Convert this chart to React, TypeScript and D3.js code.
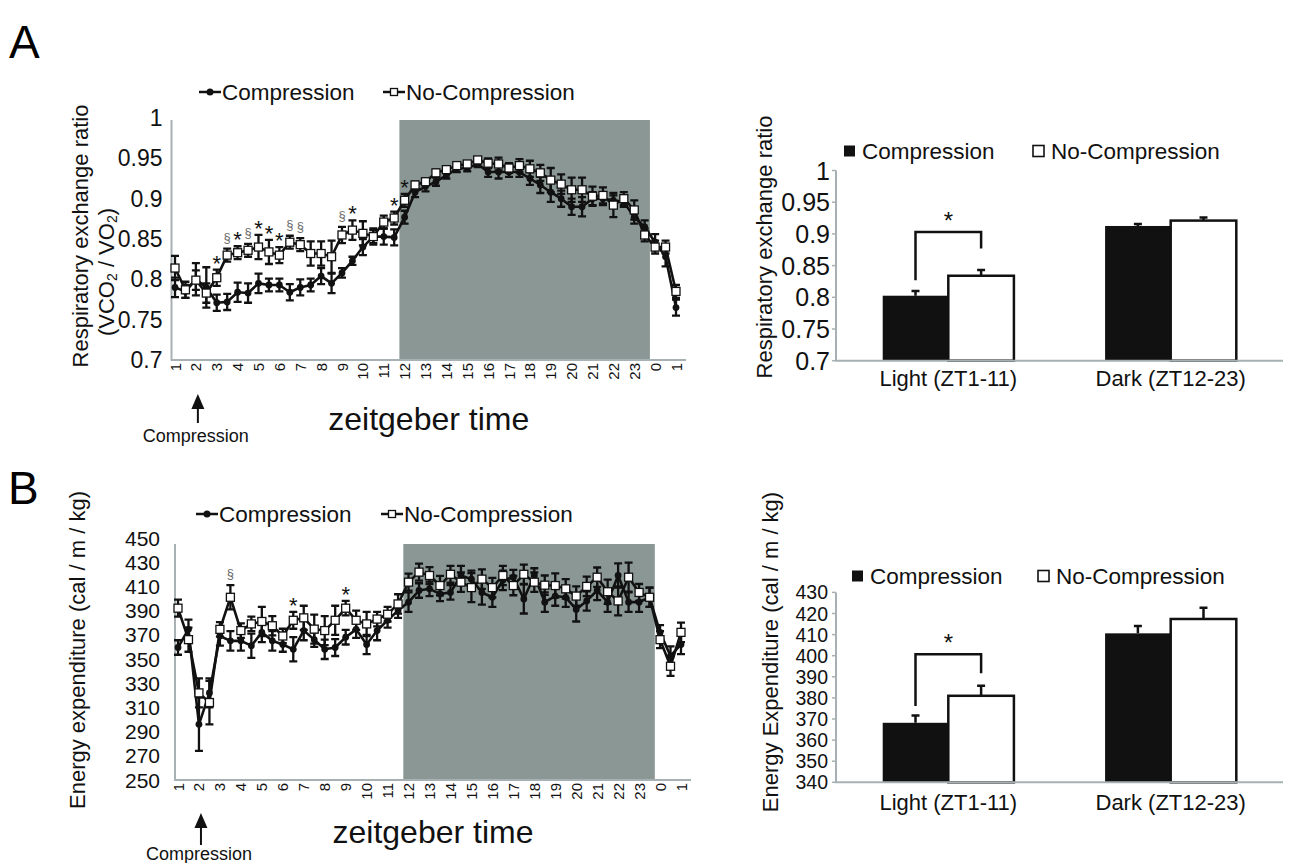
import { useEffect, useRef } from 'react';
import * as d3 from 'd3';

const FONT = '"Liberation Sans", Arial, Helvetica, sans-serif';
const SHADE = '#8a9794';
const AXIS = '#a7b1b3';
const INK = '#111';

// one label every two half-hour samples
const hourLabels = ['1', '2', '3', '4', '5', '6', '7', '8', '9', '10', '11', '12', '13', '14', '15', '16', '17', '18', '19', '20', '21', '22', '23', '0', '1'];

// respiratory exchange ratio, half-hour means
const rerComp = [0.79, 0.785, 0.8, 0.79, 0.771, 0.772, 0.784, 0.783, 0.795, 0.793, 0.793, 0.784, 0.79, 0.793, 0.804, 0.795, 0.808, 0.823, 0.84, 0.853, 0.853, 0.852, 0.877, 0.908, 0.915, 0.921, 0.929, 0.937, 0.938, 0.943, 0.933, 0.933, 0.933, 0.933, 0.925, 0.917, 0.908, 0.9, 0.89, 0.89, 0.9, 0.9, 0.898, 0.896, 0.877, 0.865, 0.846, 0.828, 0.765];
const rerCompErr = [0.012, 0.008, 0.02, 0.025, 0.01, 0.01, 0.012, 0.012, 0.012, 0.008, 0.008, 0.01, 0.01, 0.008, 0.01, 0.012, 0.006, 0.005, 0.01, 0.01, 0.01, 0.01, 0.008, 0.006, 0.006, 0.005, 0.004, 0.004, 0.004, 0.004, 0.006, 0.008, 0.006, 0.006, 0.008, 0.01, 0.012, 0.01, 0.01, 0.012, 0.008, 0.008, 0.006, 0.006, 0.008, 0.008, 0.01, 0.012, 0.01];
const rerNoComp = [0.814, 0.787, 0.799, 0.783, 0.802, 0.83, 0.833, 0.836, 0.84, 0.834, 0.83, 0.846, 0.843, 0.832, 0.832, 0.828, 0.855, 0.861, 0.857, 0.853, 0.871, 0.876, 0.898, 0.917, 0.921, 0.932, 0.936, 0.941, 0.943, 0.948, 0.944, 0.943, 0.938, 0.941, 0.937, 0.932, 0.923, 0.918, 0.911, 0.911, 0.903, 0.904, 0.892, 0.9, 0.886, 0.855, 0.84, 0.84, 0.785];
const rerNoCompErr = [0.015, 0.01, 0.012, 0.012, 0.01, 0.008, 0.008, 0.008, 0.015, 0.015, 0.01, 0.008, 0.008, 0.015, 0.015, 0.02, 0.01, 0.012, 0.015, 0.008, 0.008, 0.008, 0.008, 0.004, 0.004, 0.004, 0.003, 0.003, 0.003, 0.003, 0.006, 0.008, 0.006, 0.008, 0.01, 0.01, 0.015, 0.012, 0.015, 0.015, 0.012, 0.01, 0.015, 0.008, 0.012, 0.008, 0.008, 0.008, 0.008];
const rerSigIdx = [4, 5, 6, 7, 8, 9, 10, 11, 12, 16, 17, 21, 22];
const rerSigMark = ['*', '§', '*', '§', '*', '*', '*', '§', '§', '§', '*', '*', '*'];
const rerTickLabels = ['0.7', '0.75', '0.8', '0.85', '0.9', '0.95', '1'];

// energy expenditure, half-hour means
const eeComp = [359.5, 374.5, 296, 322, 369, 365, 365, 361, 372, 365, 362, 358, 373.5, 366, 358, 359.5, 368, 374.5, 362, 373.5, 382, 390, 397, 406.6, 408, 403.8, 405, 419, 416, 405, 401, 415, 417.6, 399.6, 419, 397, 402, 401, 391, 398, 406.6, 397, 419, 397, 397, 401, 372, 352.5, 362];
const eeCompErr = [6, 8, 22, 12, 8, 8, 8, 10, 8, 8, 6, 10, 8, 6, 8, 7, 6, 7, 8, 8, 6, 6, 8, 6, 6, 6, 6, 8, 7, 10, 8, 8, 6, 12, 6, 8, 8, 8, 10, 8, 8, 8, 10, 8, 8, 8, 6, 8, 8];
const eeNoComp = [392, 366, 322, 314, 374.5, 401, 373.5, 379, 381, 377.5, 369, 382, 384, 374.7, 373.5, 382, 392, 382, 379, 383, 387, 395.5, 413.5, 421.8, 419, 410.7, 420, 413.5, 409, 416, 409, 419, 410.7, 420, 413.5, 411, 410.7, 408, 402, 410, 417.6, 405.6, 398, 417.6, 405, 401, 366, 344, 372];
const eeNoCompErr = [7, 10, 12, 18, 6, 10, 6, 6, 12, 8, 6, 7, 10, 12, 12, 12, 6, 8, 10, 6, 6, 8, 7, 7, 7, 8, 7, 8, 12, 8, 8, 8, 8, 8, 8, 8, 10, 8, 8, 8, 8, 10, 12, 12, 7, 8, 7, 8, 8];
const eeSigIdx = [5, 11, 16];
const eeSigMark = ['§', '*', '*'];
const eeTickLabels = ['250', '270', '290', '310', '330', '350', '370', '390', '410', '430', '450'];

// light / dark averages
const periods = ['Light (ZT1-11)', 'Dark (ZT12-23)'];
const groups = ['Compression', 'No-Compression'];
const rerBarComp = [0.8025, 0.9125];
const rerBarCompErr = [0.0075, 0.003];
const rerBarNoComp = [0.834, 0.921];
const rerBarNoCompErr = [0.009, 0.005];
const rerBracket = [0.827, 0.903, 0.877];
const eeBarComp = [368.2, 410.6];
const eeBarCompErr = [3.4, 3.5];
const eeBarNoComp = [381, 417.4];
const eeBarNoCompErr = [4.8, 5.3];
const eeBracket = [376.2, 400.7, 391.7];
const eeBarTickLabels = ['340', '350', '360', '370', '380', '390', '400', '410', '420', '430'];

function legendItem(g, x, y, label, open, square) {
  if (square) {
    g.append('rect').attr('x', x).attr('y', y - 5.5).attr('width', 11).attr('height', 11)
      .attr('fill', open ? '#fff' : INK).attr('stroke', INK).attr('stroke-width', open ? 1.6 : 0);
    g.append('text').attr('x', x + 18).attr('y', y).attr('dominant-baseline', 'central')
      .attr('font-size', 22.5).text(label);
    return;
  }
  g.append('line').attr('x1', x).attr('x2', x + 22).attr('y1', y).attr('y2', y)
    .attr('stroke', INK).attr('stroke-width', 2.5);
  if (open) {
    g.append('rect').attr('x', x + 7.5).attr('y', y - 3.5).attr('width', 7).attr('height', 7)
      .attr('fill', '#fff').attr('stroke', INK).attr('stroke-width', 1.3);
  } else {
    g.append('circle').attr('cx', x + 11).attr('cy', y).attr('r', 3.5).attr('fill', INK);
  }
  g.append('text').attr('x', x + 23).attr('y', y).attr('dominant-baseline', 'central')
    .attr('font-size', 22.5).text(label);
}

function drawTimeCourse(svg, o) {
  const g = svg.append('g').attr('font-family', FONT).attr('fill', INK);
  const n = o.comp.length;
  const x = d3.scalePoint().domain(d3.range(n)).range(o.xRange);
  const y = d3.scaleLinear().domain(o.yDomain).range(o.yRange);
  const step = x.step();
  const left = o.xRange[0] - o.inset;
  const bottom = y(o.yDomain[0]);
  const darkStart = hourLabels.indexOf('12') * 2;
  const darkEnd = hourLabels.lastIndexOf('23') * 2 + 1;

  g.append('rect')
    .attr('x', x(darkStart) - step / 2)
    .attr('y', o.plotTop)
    .attr('width', x(darkEnd) - x(darkStart) + step)
    .attr('height', bottom - o.plotTop)
    .attr('fill', SHADE);

  g.append('path')
    .attr('d', `M${left},${o.plotTop}V${bottom}H${x(n - 1) + 10}`)
    .attr('fill', 'none').attr('stroke', AXIS).attr('stroke-width', 2);

  g.selectAll('.ytick').data(o.ticks).enter().append('text')
    .attr('x', left - o.labelGap).attr('y', d => y(+d))
    .attr('text-anchor', 'end').attr('dominant-baseline', 'central')
    .attr('font-size', o.tickSize).text(d => d);

  hourLabels.forEach((lab, i) => {
    g.append('text')
      .attr('transform', `translate(${x(i * 2)},${bottom + 3}) rotate(-90)`)
      .attr('text-anchor', 'end').attr('dominant-baseline', 'central')
      .attr('font-size', 15).text(lab);
  });

  const series = [
    { v: o.comp, e: o.compErr },
    { v: o.noComp, e: o.noCompErr },
  ];
  series.forEach(s => {
    s.v.forEach((v, i) => {
      const cx = x(i);
      const y1 = y(v + s.e[i]);
      const y2 = y(v - s.e[i]);
      g.append('path')
        .attr('d', `M${cx},${y1}V${y2}M${cx - 4},${y1}H${cx + 4}M${cx - 4},${y2}H${cx + 4}`)
        .attr('fill', 'none').attr('stroke', INK).attr('stroke-width', 2.3);
    });
  });

  const line = d3.line().x((d, i) => x(i)).y(d => y(d));
  series.forEach(s => {
    g.append('path').datum(s.v).attr('d', line)
      .attr('fill', 'none').attr('stroke', INK).attr('stroke-width', 2.6).attr('stroke-linejoin', 'round');
  });

  g.selectAll('.cdot').data(o.comp).enter().append('circle')
    .attr('cx', (d, i) => x(i)).attr('cy', d => y(d)).attr('r', 3.4).attr('fill', INK);
  g.selectAll('.odot').data(o.noComp).enter().append('rect')
    .attr('x', (d, i) => x(i) - 4).attr('y', d => y(d) - 4)
    .attr('width', 8).attr('height', 8)
    .attr('fill', '#fff').attr('stroke', INK).attr('stroke-width', 1.3);

  o.sigIdx.forEach((idx, k) => {
    const top = y(o.noComp[idx] + o.noCompErr[idx]);
    const star = o.sigMark[k] === '*';
    g.append('text')
      .attr('x', x(idx)).attr('y', star ? top + 1 : top - 7)
      .attr('text-anchor', 'middle')
      .attr('font-size', star ? 22 : 13)
      .attr('fill', star ? INK : '#6a6a6a')
      .text(o.sigMark[k]);
  });

  legendItem(g, o.legendX[0], o.legendY, 'Compression', false, false);
  legendItem(g, o.legendX[1], o.legendY, 'No-Compression', true, false);

  // compression event arrow under ZT2
  const ax = x(2) + 2;
  g.append('line').attr('x1', ax).attr('x2', ax).attr('y1', o.arrow[0] + 10).attr('y2', o.arrow[1])
    .attr('stroke', INK).attr('stroke-width', 2);
  g.append('path')
    .attr('d', `M${ax},${o.arrow[0]}L${ax - 6.5},${o.arrow[0] + 15}L${ax + 6.5},${o.arrow[0] + 15}Z`)
    .attr('fill', INK);
  g.append('text').attr('x', ax - 2).attr('y', o.arrow[2]).attr('text-anchor', 'middle')
    .attr('font-size', 18).text('Compression');

  g.append('text').attr('x', (left + x(n - 1) + 10) / 2).attr('y', o.titleY)
    .attr('text-anchor', 'middle').attr('font-size', 32).text('zeitgeber time');
}

function drawBars(svg, o) {
  const g = svg.append('g').attr('font-family', FONT).attr('fill', INK);
  const x0 = d3.scaleBand().domain(periods).range(o.xRange).paddingInner(0.41).paddingOuter(0.21);
  const x1 = d3.scaleBand().domain(groups).range([0, x0.bandwidth()]);
  const y = d3.scaleLinear().domain(o.yDomain).range(o.yRange);
  const left = o.xRange[0];
  const bottom = y(o.yDomain[0]);

  periods.forEach((p, i) => {
    const vals = [o.comp[i], o.noComp[i]];
    const errs = [o.compErr[i], o.noCompErr[i]];
    groups.forEach((grp, j) => {
      const bx = x0(p) + x1(grp);
      const cx = bx + x1.bandwidth() / 2;
      const top = y(vals[j]);
      const et = y(vals[j] + errs[j]);
      g.append('path')
        .attr('d', `M${cx},${top}V${et}M${cx - 4},${et}H${cx + 4}`)
        .attr('fill', 'none').attr('stroke', INK).attr('stroke-width', 2.5);
      g.append('rect')
        .attr('x', bx).attr('y', top).attr('width', x1.bandwidth()).attr('height', bottom - top)
        .attr('fill', j === 0 ? INK : '#fff')
        .attr('stroke', INK).attr('stroke-width', j === 0 ? 0 : 2.5);
    });
  });

  g.append('path')
    .attr('d', `M${left},${y(o.yDomain[1])}V${bottom}H${o.xRange[1]}`)
    .attr('fill', 'none').attr('stroke', AXIS).attr('stroke-width', 2);
  g.selectAll('.tk').data(o.ticks).enter().append('line')
    .attr('x1', left - 4).attr('x2', left).attr('y1', d => y(+d)).attr('y2', d => y(+d))
    .attr('stroke', AXIS).attr('stroke-width', 1.5);
  g.selectAll('.tl').data(o.ticks).enter().append('text')
    .attr('x', left - o.labelGap).attr('y', d => y(+d))
    .attr('text-anchor', 'end').attr('dominant-baseline', 'central')
    .attr('font-size', o.tickSize).text(d => d);

  periods.forEach(p => {
    g.append('text').attr('x', x0(p) + x0.bandwidth() / 2).attr('y', o.catY)
      .attr('text-anchor', 'middle').attr('font-size', 22).text(p);
  });

  // significance bracket over the light-phase bars
  const p = periods[0];
  const xl = x0(p) + x1(groups[0]) + x1.bandwidth() / 2;
  const xr = x0(p) + x1(groups[1]) + x1.bandwidth() / 2;
  g.append('path')
    .attr('d', `M${xl},${y(o.bracket[0])}V${y(o.bracket[1])}H${xr}V${y(o.bracket[2])}`)
    .attr('fill', 'none').attr('stroke', INK).attr('stroke-width', 2.5);
  g.append('text').attr('x', (xl + xr) / 2).attr('y', y(o.bracket[1]) - 3)
    .attr('text-anchor', 'middle').attr('font-size', 24).text('*');

  legendItem(g, o.legendX[0], o.legendY[0], 'Compression', false, true);
  legendItem(g, o.legendX[1], o.legendY[1], 'No-Compression', true, true);
}

function rotatedLabel(svg, x, y, text) {
  return svg.append('text')
    .attr('transform', `translate(${x},${y}) rotate(-90)`)
    .attr('text-anchor', 'middle').attr('dominant-baseline', 'central')
    .attr('font-family', FONT).attr('font-size', 22).attr('fill', INK)
    .text(text);
}

const App = () => {
  const svgRef = useRef(null);

  useEffect(() => {
    if (!svgRef.current) return;
    const svg = d3.select(svgRef.current);
    svg.selectAll('*').remove();

    svg.append('text').attr('x', 9).attr('y', 58).attr('font-family', FONT).attr('font-size', 46).text('A');
    svg.append('text').attr('x', 8).attr('y', 504).attr('font-family', FONT).attr('font-size', 46).text('B');

    drawTimeCourse(svg, {
      comp: rerComp, compErr: rerCompErr, noComp: rerNoComp, noCompErr: rerNoCompErr,
      sigIdx: rerSigIdx, sigMark: rerSigMark, ticks: rerTickLabels,
      xRange: [175, 676], inset: 3.5, labelGap: 9, tickSize: 23,
      yDomain: [0.7, 1], yRange: [360, 118], plotTop: 120,
      legendX: [199, 383], legendY: 92,
      arrow: [394, 423, 442], titleY: 430,
    });
    rotatedLabel(svg, 80, 236, 'Respiratory exchange ratio');
    const v = svg.append('text')
      .attr('transform', 'translate(106,272) rotate(-90)')
      .attr('text-anchor', 'middle').attr('dominant-baseline', 'central')
      .attr('font-family', FONT).attr('font-size', 22).attr('fill', INK);
    v.append('tspan').text('(VCO');
    v.append('tspan').attr('font-size', 14).attr('dy', 6).text('2');
    v.append('tspan').attr('dy', -6).text(' / VO');
    v.append('tspan').attr('font-size', 14).attr('dy', 6).text('2');
    v.append('tspan').attr('dy', -6).text(')');

    drawTimeCourse(svg, {
      comp: eeComp, compErr: eeCompErr, noComp: eeNoComp, noCompErr: eeNoCompErr,
      sigIdx: eeSigIdx, sigMark: eeSigMark, ticks: eeTickLabels,
      xRange: [178, 681], inset: 3, labelGap: 15, tickSize: 21,
      yDomain: [250, 450], yRange: [780, 538], plotTop: 544,
      legendX: [196, 381], legendY: 514,
      arrow: [813, 845, 860], titleY: 843,
    });
    rotatedLabel(svg, 77, 650, 'Energy expenditure (cal / m / kg)');

    drawBars(svg, {
      comp: rerBarComp, compErr: rerBarCompErr, noComp: rerBarNoComp, noCompErr: rerBarNoCompErr,
      bracket: rerBracket, ticks: rerTickLabels,
      xRange: [836, 1283], yDomain: [0.7, 1], yRange: [360.7, 170.5],
      labelGap: 6, tickSize: 25, catY: 386,
      legendX: [844, 1033], legendY: [151, 151],
    });
    rotatedLabel(svg, 764, 247, 'Respiratory exchange ratio');

    drawBars(svg, {
      comp: eeBarComp, compErr: eeBarCompErr, noComp: eeBarNoComp, noCompErr: eeBarNoCompErr,
      bracket: eeBracket, ticks: eeBarTickLabels,
      xRange: [836, 1283], yDomain: [340, 430], yRange: [782.3, 592.4],
      labelGap: 8, tickSize: 19.5, catY: 810,
      legendX: [852, 1038], legendY: [576, 576],
    });
    rotatedLabel(svg, 770, 652, 'Energy Expenditure (cal / m / kg)');
  }, []);

  return (
    <svg
      ref={svgRef}
      width={1290}
      height={863}
      style={{ position: 'absolute', left: 0, top: 0, background: '#fff' }}
    />
  );
};

export default App;
